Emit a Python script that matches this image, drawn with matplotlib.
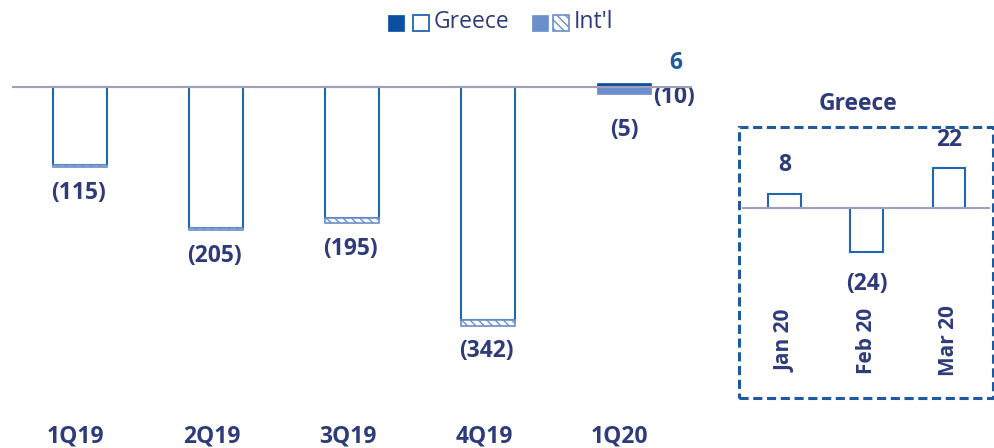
import matplotlib
matplotlib.use("Agg")
import matplotlib.pyplot as plt
from matplotlib.patches import Rectangle

plt.rcParams['font.family'] = ['Open Sans', 'DejaVu Sans']
plt.rcParams['hatch.linewidth'] = 1.0

# ---------------- data ----------------
quarters = ["1Q19", "2Q19", "3Q19", "4Q19", "1Q20"]
greece = [-111, -201, -187, -333, 6]
intl = [-4, -4, -8, -9, -10]
total_labels = ["(115)", "(205)", "(195)", "(342)", "(5)"]
totals = [-115, -205, -195, -342, -4]

months = ["Jan 20", "Feb 20", "Mar 20"]
greece_monthly = [8, -24, 22]
monthly_labels = ["8", "(24)", "22"]

# ---------------- style ----------------
NAVY = "#2E3B7A"
BLUE_EDGE = "#2166B0"
DARK_BLUE = "#0B4EA2"
LIGHT_BLUE = "#6A8FCB"
ZERO = "#A09EB8"
W, H = 995, 448
FS = 16.5

fig = plt.figure(figsize=(W / 100, H / 100), dpi=100)

def fx(px):
    return px / W

def fy(py):
    return 1 - py / H

# main axes
ax = fig.add_axes([fx(12), fy(420), fx(692) - fx(12), fy(40) - fy(420)])
ax.set_xlim(-0.5, 4.5)
ax.set_ylim(-476, 67)
ax.axis("off")
bw = 0.4
for i, q in enumerate(quarters):
    if i < 4:
        ax.bar(i, greece[i], bw, color="white", edgecolor=BLUE_EDGE, linewidth=1.5, zorder=2)
        ax.bar(i, intl[i], bw, bottom=greece[i], color="white", edgecolor=LIGHT_BLUE,
               linewidth=1.2, hatch="\\\\\\\\", zorder=2)
        ax.text(i - 0.01, totals[i] - 36, total_labels[i], ha="center", va="center",
                fontsize=FS, fontweight="bold", color=NAVY)
    else:
        ax.bar(i, greece[i], bw, color=DARK_BLUE, edgecolor=DARK_BLUE, linewidth=0.5, zorder=2)
        ax.bar(i, intl[i], bw, color=LIGHT_BLUE, edgecolor=LIGHT_BLUE, linewidth=0.5, zorder=2)
        ax.text(i + 0.38, greece[i] + 28, "6", ha="center", va="center",
                fontsize=FS, fontweight="bold", color="#1F5AA0")
        ax.text(i + 0.37, intl[i] - 4, "(10)", ha="center", va="center",
                fontsize=FS, fontweight="bold", color=NAVY)
        ax.text(i, -61, total_labels[i], ha="center", va="center",
                fontsize=FS, fontweight="bold", color=NAVY)
    ax.text(i - 0.03, -500, q, ha="center", va="center", fontsize=FS,
            fontweight="bold", color=NAVY, clip_on=False)
ax.axhline(0, color=ZERO, linewidth=1.5, zorder=3)

# inset axes
ax2 = fig.add_axes([fx(742), fy(395), fx(990) - fx(742), fy(130) - fy(395)])
ax2.set_xlim(-0.52, 2.5)
ax2.set_ylim(-102.7, 42.9)
ax2.axis("off")
for i, m in enumerate(months):
    v = greece_monthly[i]
    ax2.bar(i, v, 0.4, color="white", edgecolor=BLUE_EDGE, linewidth=1.5, zorder=2)
    if v >= 0:
        ax2.text(i, v + 15.5, monthly_labels[i], ha="center", va="center",
                 fontsize=FS, fontweight="bold", color=NAVY)
    else:
        ax2.text(i, v - 17.5, monthly_labels[i], ha="center", va="center",
                 fontsize=FS, fontweight="bold", color=NAVY)
    ax2.text(i, -73, m, ha="center", va="center", rotation=90, fontsize=15,
             fontweight="bold", color=NAVY)
ax2.axhline(0, color=ZERO, linewidth=1.5, zorder=3)

# dashed frame
fig.patches.append(Rectangle((fx(739), fy(398)), fx(993) - fx(739), fy(127) - fy(398),
                             transform=fig.transFigure, fill=False, edgecolor="#1F5AA0",
                             linewidth=2.2, linestyle=(0, (3, 1.5))))
fig.text(fx(858), fy(104), "Greece", ha="center", va="center", fontsize=FS,
         fontweight="bold", color=NAVY)

# legend
sq = 16
def square(x, **kw):
    fig.patches.append(Rectangle((fx(x), fy(31)), fx(sq), sq / H,
                                 transform=fig.transFigure, **kw))
square(388, facecolor=DARK_BLUE, edgecolor=DARK_BLUE, linewidth=0.5)
square(413, facecolor="white", edgecolor=BLUE_EDGE, linewidth=1.3)
fig.text(fx(434), fy(22), "Greece", ha="left", va="center", fontsize=16.5, color=NAVY)
square(532, facecolor=LIGHT_BLUE, edgecolor=LIGHT_BLUE, linewidth=0.5)
square(553, facecolor="white", edgecolor=LIGHT_BLUE, linewidth=1.2, hatch="\\\\\\\\")
fig.text(fx(574), fy(22), "Int'l", ha="left", va="center", fontsize=16.5, color=NAVY)

fig.savefig("out.png", dpi=100)
